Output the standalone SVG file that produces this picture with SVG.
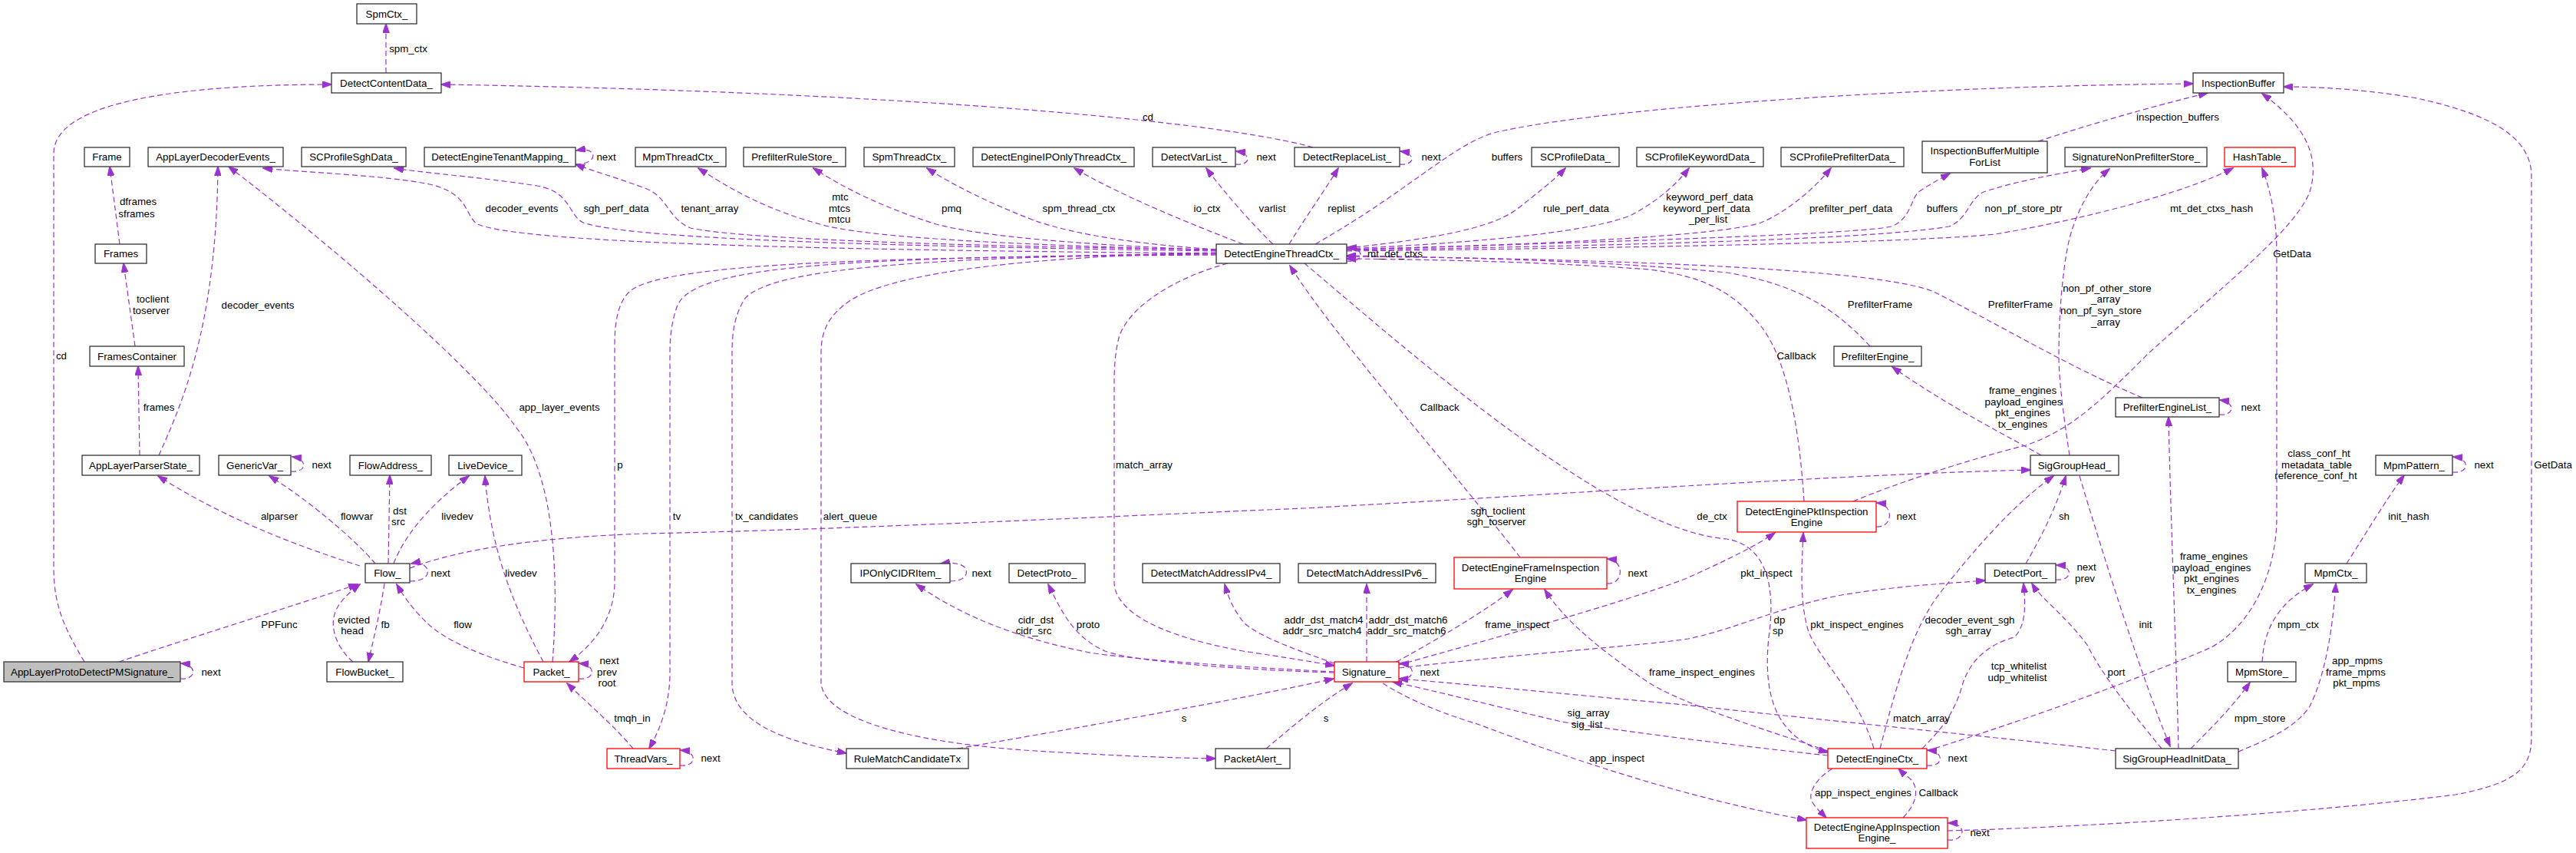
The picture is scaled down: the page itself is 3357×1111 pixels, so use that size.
<svg xmlns="http://www.w3.org/2000/svg" width="3357" height="1111" viewBox="0 0 3357 1111">
<style>
.node rect{fill:#fff;stroke:#333;stroke-width:1.3}
.node.red rect{stroke:#ff0000}
.node.main rect{fill:#bfbfbf;stroke:#333}
text{font-family:"Liberation Sans",Arial,sans-serif;font-size:13.33px;fill:#000}
.node text{text-anchor:middle}
.lbl text{text-anchor:middle}
.edges path{fill:none;stroke:#9a32cd;stroke-width:1.2;stroke-dasharray:7,4;marker-end:url(#arr)}
</style>
<defs>
<marker id="arr" viewBox="0 0 13 9" refX="12" refY="4.5" markerWidth="13" markerHeight="9" markerUnits="userSpaceOnUse" orient="auto">
<path d="M0,0 L13,4.5 L0,9 z" fill="#9a32cd" stroke="#9a32cd" stroke-width="0.8"/>
</marker>
</defs>
<rect width="3357" height="1111" fill="#fff"/>
<g class="edges" id="connectors">
<path d="M503,95 L503,31"/>
<path d="M110,862 C85,820 70,790 70,740 L70,200 C70,120 300,110 432,110"/>
<path d="M1711,192 C1600,160 1200,120 575,110"/>
<path d="M156,318 L143,217"/>
<path d="M176,451 L161,343"/>
<path d="M182,593 L180,477"/>
<path d="M207,593 C235,530 282,430 284,217"/>
<path d="M720,862 C728,760 725,620 672,556 C620,480 420,310 298,217"/>
<path d="M1585,330 C1000,325 680,315 622,292 C605,280 612,252 560,240 C500,228 400,225 343,219"/>
<path d="M1585,327 C1100,320 820,310 760,290 C740,280 745,250 700,242 C620,230 550,225 514,219"/>
<path d="M1585,325 C1200,320 960,310 900,297 C870,285 870,255 840,245 C800,230 770,222 750,214"/>
<path d="M750,214 C770,214 775,205 772,200 C769,195 762,194 751,196"/>
<path d="M1585,326 C1300,318 1150,310 1080,295 C1000,275 950,245 910,219"/>
<path d="M1585,326 C1400,318 1280,308 1220,292 C1150,270 1100,245 1060,219"/>
<path d="M1585,325 C1480,318 1400,305 1350,288 C1290,265 1240,240 1208,219"/>
<path d="M1620,318 C1560,295 1460,255 1400,219"/>
<path d="M1659,318 C1630,290 1595,250 1572,219"/>
<path d="M1610,214 C1630,216 1632,200 1611,197"/>
<path d="M1680,318 C1700,285 1725,250 1744,219"/>
<path d="M1824,214 C1844,216 1846,200 1825,197"/>
<path d="M1714,318 C1850,240 1900,180 1960,170 C2100,140 2500,112 2858,109"/>
<path d="M1755,323 C1880,310 1950,295 1980,270 C2005,250 2025,235 2040,219"/>
<path d="M1755,324 C1950,315 2080,300 2126,280 C2160,262 2185,240 2201,219"/>
<path d="M1755,325 C2050,318 2250,305 2295,290 C2330,275 2365,245 2386,219"/>
<path d="M1755,325 C2100,315 2420,305 2465,295 C2490,285 2490,260 2500,250 C2515,240 2530,232 2541,226"/>
<path d="M1755,326 C2200,318 2450,310 2540,295 C2565,285 2565,260 2585,250 C2630,235 2690,225 2724,219"/>
<path d="M1755,327 C2200,322 2500,315 2600,305 C2720,285 2850,250 2910,219"/>
<path d="M1755,340 C1778,342 1780,324 1756,322"/>
<path d="M2437,451 C2390,400 2340,370 2250,355 C2100,340 1900,335 1755,333"/>
<path d="M2792,518 C2700,480 2600,420 2520,380 C2450,350 2100,337 1755,334"/>
<path d="M2351,653 C2345,560 2330,470 2295,425 C2260,380 2220,360 2150,351 C2000,340 1850,338 1755,337"/>
<path d="M2892,540 C2912,542 2914,524 2893,521"/>
<path d="M1981,726 C1900,620 1740,440 1681,346"/>
<path d="M1700,343 C1850,470 2100,690 2250,702 C2300,710 2315,760 2305,830 C2298,900 2310,960 2382,980"/>
<path d="M534,740 C600,715 700,700 840,695 C1100,690 1500,670 1700,662 C2100,640 2400,618 2646,612"/>
<path d="M1585,332 C1100,335 860,345 820,380 C805,395 801,420 801,450 L801,760 C800,800 780,835 742,862"/>
<path d="M1585,331 C1100,335 900,345 882,400 C875,420 873,440 873,460 L873,880 C872,920 860,950 846,975"/>
<path d="M1585,330 C1200,335 1000,350 970,390 C958,410 954,430 954,460 L954,890 C955,940 1020,965 1103,981"/>
<path d="M1585,329 C1300,335 1160,360 1110,390 C1080,410 1070,430 1070,460 L1070,890 C1075,940 1200,970 1366,979 C1450,984 1520,987 1584,988"/>
<path d="M1600,343 C1530,362 1470,400 1458,440 C1453,460 1452,480 1452,500 L1452,760 C1455,800 1520,830 1620,848 C1680,857 1710,862 1739,867"/>
<path d="M1739,875 C1600,868 1470,858 1420,850 C1320,830 1250,800 1194,761"/>
<path d="M1739,876 C1600,872 1470,860 1440,848 C1400,830 1385,800 1366,761"/>
<path d="M1739,864 C1700,850 1640,830 1620,810 C1605,790 1600,775 1596,761"/>
<path d="M1781,862 L1781,761"/>
<path d="M1820,862 C1860,840 1930,800 1971,768"/>
<path d="M1823,866 C1950,830 2100,790 2196,754 C2250,730 2290,710 2313,694"/>
<path d="M1823,870 C2000,850 2150,840 2200,832 C2260,820 2320,790 2400,775 C2480,762 2540,760 2587,756"/>
<path d="M2757,978 C2600,960 2300,930 2196,918 C2050,905 1900,890 1823,884"/>
<path d="M1248,975 C1450,940 1620,910 1738,884"/>
<path d="M1650,975 C1680,950 1720,915 1762,890"/>
<path d="M825,975 C800,945 770,920 739,890"/>
<path d="M683,870 C630,855 580,835 555,810 C535,790 525,775 517,761"/>
<path d="M708,862 C670,790 640,720 632,620"/>
<path d="M513,734 C530,690 570,650 611,620"/>
<path d="M506,734 L508,619"/>
<path d="M489,734 C460,700 400,650 351,620"/>
<path d="M469,737 C400,715 300,680 206,620"/>
<path d="M379,614 C400,616 402,598 381,595"/>
<path d="M501,760 C495,800 485,840 480,862"/>
<path d="M460,862 C440,845 430,820 436,800 C440,785 455,772 469,761"/>
<path d="M155,862 C250,830 380,790 466,761"/>
<path d="M235,884 C256,886 258,866 236,864"/>
<path d="M754,884 C776,886 778,866 755,864"/>
<path d="M886,997 C908,999 910,979 887,977"/>
<path d="M1238,757 C1258,757 1262,747 1258,740 C1254,734 1240,732 1226,734"/>
<path d="M534,757 C556,757 560,747 556,740 C552,734 545,732 536,734"/>
<path d="M1823,884 C1845,886 1847,866 1824,864"/>
<path d="M2094,760 C2116,762 2118,730 2095,728"/>
<path d="M2445,686 C2467,688 2469,657 2446,655"/>
<path d="M2511,997 C2533,999 2535,979 2512,977"/>
<path d="M2538,1094 C2562,1096 2564,1072 2539,1072"/>
<path d="M2679,755 C2701,757 2703,737 2680,736"/>
<path d="M3196,615 C3218,617 3220,597 3197,595"/>
<path d="M2656,184 C2730,160 2800,140 2877,121"/>
<path d="M2415,653 C2470,630 2560,600 2640,580 C2700,560 2740,520 2800,460 C2900,370 2990,300 3010,250 C3025,200 3000,160 2948,122"/>
<path d="M2538,1082 C2700,1078 3000,1060 3200,1035 C3280,1020 3299,1000 3299,960 L3299,230 C3299,180 3250,150 3150,128 C3080,116 3020,113 2976,113"/>
<path d="M2660,593 C2620,570 2540,530 2466,478"/>
<path d="M2697,593 C2692,560 2683,500 2683,464 C2683,400 2690,330 2700,300 C2710,270 2725,240 2749,220"/>
<path d="M2640,734 C2660,700 2680,660 2692,620"/>
<path d="M2710,620 C2740,720 2790,880 2828,972"/>
<path d="M2839,975 C2836,850 2828,650 2826,543"/>
<path d="M2817,975 C2780,930 2740,880 2720,840 C2690,800 2660,780 2648,760"/>
<path d="M2855,975 C2880,950 2910,920 2932,889"/>
<path d="M2917,979 C2950,965 2990,950 3010,920 C3030,880 3040,820 3044,760"/>
<path d="M2948,862 C2950,830 2960,790 3014,761"/>
<path d="M3058,734 C3080,700 3110,650 3133,619"/>
<path d="M2511,978 C2600,950 2750,900 2882,843 C2940,810 2965,740 2967,680 L2967,330 C2967,290 2960,250 2948,219"/>
<path d="M2450,975 C2470,900 2490,820 2530,770 C2570,720 2620,660 2676,620"/>
<path d="M2505,975 C2530,950 2545,930 2555,900 C2565,860 2590,840 2625,830 C2640,815 2640,790 2637,760"/>
<path d="M2442,975 C2420,900 2370,860 2356,820 C2345,780 2348,740 2350,694"/>
<path d="M2382,978 C2300,950 2200,920 2150,890 C2090,850 2040,810 2013,768"/>
<path d="M2382,984 C2250,970 2100,950 2035,940 C1950,920 1870,900 1815,888"/>
<path d="M1802,890 C1850,920 1900,935 1928,944 C2050,990 2200,1040 2354,1068"/>
<path d="M2388,1001 C2365,1015 2355,1035 2362,1045 C2368,1055 2375,1060 2380,1065"/>
<path d="M2480,1065 C2500,1045 2500,1025 2490,1015 C2482,1008 2478,1005 2474,1001"/>
</g>
<g class="lbl" id="labels">
<text x="532" y="68">spm_ctx</text>
<text x="80" y="468">cd</text>
<text x="1496" y="157">cd</text>
<text x="180" y="267">dframes</text>
<text x="178" y="283">sframes</text>
<text x="199" y="394">toclient</text>
<text x="197" y="409">toserver</text>
<text x="336" y="402">decoder_events</text>
<text x="207" y="535">frames</text>
<text x="729" y="535">app_layer_events</text>
<text x="680" y="276">decoder_events</text>
<text x="803" y="276">sgh_perf_data</text>
<text x="790" y="209">next</text>
<text x="925" y="276">tenant_array</text>
<text x="1095" y="261">mtc</text>
<text x="1094" y="276">mtcs</text>
<text x="1094" y="290">mtcu</text>
<text x="1240" y="276">pmq</text>
<text x="1406" y="276">spm_thread_ctx</text>
<text x="1573" y="276">io_ctx</text>
<text x="1650" y="209">next</text>
<text x="1658" y="276">varlist</text>
<text x="1748" y="276">replist</text>
<text x="1865" y="209">next</text>
<text x="1964" y="209">buffers</text>
<text x="2054" y="276">rule_perf_data</text>
<text x="2228" y="261">keyword_perf_data</text>
<text x="2224" y="276">keyword_perf_data</text>
<text x="2226" y="290">_per_list</text>
<text x="2412" y="276">prefilter_perf_data</text>
<text x="2838" y="157">inspection_buffers</text>
<text x="2531" y="276">buffers</text>
<text x="2637" y="276">non_pf_store_ptr</text>
<text x="2882" y="276">mt_det_ctxs_hash</text>
<text x="2987" y="335">GetData</text>
<text x="1818" y="335">mt_det_ctxs</text>
<text x="2450" y="401">PrefilterFrame</text>
<text x="2633" y="401">PrefilterFrame</text>
<text x="2746" y="380">non_pf_other_store</text>
<text x="2744" y="394">_array</text>
<text x="2738" y="409">non_pf_syn_store</text>
<text x="2744" y="424">_array</text>
<text x="2341" y="468">Callback</text>
<text x="1876" y="535">Callback</text>
<text x="2636" y="513">frame_engines</text>
<text x="2637" y="528">payload_engines</text>
<text x="2636" y="542">pkt_engines</text>
<text x="2636" y="557">tx_engines</text>
<text x="2933" y="535">next</text>
<text x="808" y="610">p</text>
<text x="1491" y="610">match_array</text>
<text x="3022" y="595">class_conf_ht</text>
<text x="3019" y="610">metadata_table</text>
<text x="3018" y="624">reference_conf_ht</text>
<text x="3237" y="610">next</text>
<text x="3327" y="610">GetData</text>
<text x="419" y="610">next</text>
<text x="1952" y="670">sgh_toclient</text>
<text x="1950" y="684">sgh_toserver</text>
<text x="2231" y="677">de_ctx</text>
<text x="2484" y="677">next</text>
<text x="2690" y="677">sh</text>
<text x="3139" y="677">init_hash</text>
<text x="364" y="677">alparser</text>
<text x="465" y="677">flowvar</text>
<text x="521" y="670">dst</text>
<text x="519" y="684">src</text>
<text x="596" y="677">livedev</text>
<text x="882" y="677">tv</text>
<text x="999" y="677">tx_candidates</text>
<text x="1108" y="677">alert_queue</text>
<text x="574" y="751">next</text>
<text x="679" y="751">livedev</text>
<text x="1279" y="751">next</text>
<text x="2134" y="751">next</text>
<text x="2302" y="751">pkt_inspect</text>
<text x="2719" y="743">next</text>
<text x="2717" y="758">prev</text>
<text x="2885" y="729">frame_engines</text>
<text x="2883" y="744">payload_engines</text>
<text x="2882" y="758">pkt_engines</text>
<text x="2882" y="773">tx_engines</text>
<text x="2567" y="812">decoder_event_sgh</text>
<text x="2565" y="826">sgh_array</text>
<text x="1350" y="812">cidr_dst</text>
<text x="1347" y="826">cidr_src</text>
<text x="1418" y="818">proto</text>
<text x="1725" y="812">addr_dst_match4</text>
<text x="1723" y="826">addr_src_match4</text>
<text x="1835" y="812">addr_dst_match6</text>
<text x="1833" y="826">addr_src_match6</text>
<text x="1977" y="818">frame_inspect</text>
<text x="2319" y="812">dp</text>
<text x="2317" y="826">sp</text>
<text x="2420" y="818">pkt_inspect_engines</text>
<text x="2796" y="818">init</text>
<text x="2995" y="818">mpm_ctx</text>
<text x="364" y="818">PPFunc</text>
<text x="461" y="812">evicted</text>
<text x="459" y="826">head</text>
<text x="502" y="818">fb</text>
<text x="603" y="818">flow</text>
<text x="2631" y="872">tcp_whitelist</text>
<text x="2629" y="887">udp_whitelist</text>
<text x="3072" y="865">app_mpms</text>
<text x="3070" y="880">frame_mpms</text>
<text x="3071" y="894">pkt_mpms</text>
<text x="2758" y="880">port</text>
<text x="2218" y="880">frame_inspect_engines</text>
<text x="1863" y="880">next</text>
<text x="275" y="880">next</text>
<text x="794" y="865">next</text>
<text x="791" y="880">prev</text>
<text x="791" y="894">root</text>
<text x="2070" y="933">sig_array</text>
<text x="2068" y="948">sig_list</text>
<text x="2504" y="940">match_array</text>
<text x="824" y="940">tmqh_in</text>
<text x="1543" y="940">s</text>
<text x="1728" y="940">s</text>
<text x="2945" y="940">mpm_store</text>
<text x="926" y="992">next</text>
<text x="2107" y="992">app_inspect</text>
<text x="2551" y="992">next</text>
<text x="2428" y="1037">app_inspect_engines</text>
<text x="2526" y="1037">Callback</text>
<text x="2580" y="1089">next</text>
</g>
<g id="n_SpmCtx" class="node"><rect x="465" y="5" width="78" height="26"/><text x="504" y="22.7">SpmCtx_</text></g>
<g id="n_DetectContentData" class="node"><rect x="432" y="95" width="143" height="26"/><text x="503.5" y="112.7">DetectContentData_</text></g>
<g id="n_Frame" class="node"><rect x="110" y="192" width="59" height="25"/><text x="139.5" y="209">Frame</text></g>
<g id="n_AppLayerDecoderEvents" class="node"><rect x="193" y="192" width="176" height="25"/><text x="281" y="209">AppLayerDecoderEvents_</text></g>
<g id="n_SCProfileSghData" class="node"><rect x="393" y="192" width="136" height="25"/><text x="461" y="209">SCProfileSghData_</text></g>
<g id="n_DetectEngineTenantMapping" class="node"><rect x="553" y="192" width="197" height="25"/><text x="651.5" y="209">DetectEngineTenantMapping_</text></g>
<g id="n_MpmThreadCtx" class="node"><rect x="828" y="192" width="118" height="25"/><text x="887" y="209">MpmThreadCtx_</text></g>
<g id="n_PrefilterRuleStore" class="node"><rect x="969" y="192" width="133" height="25"/><text x="1035.5" y="209">PrefilterRuleStore_</text></g>
<g id="n_SpmThreadCtx" class="node"><rect x="1126" y="192" width="118" height="25"/><text x="1185" y="209">SpmThreadCtx_</text></g>
<g id="n_DetectEngineIPOnlyThreadCtx" class="node"><rect x="1268" y="192" width="210" height="25"/><text x="1373" y="209">DetectEngineIPOnlyThreadCtx_</text></g>
<g id="n_DetectVarList" class="node"><rect x="1502" y="192" width="108" height="25"/><text x="1556" y="209">DetectVarList_</text></g>
<g id="n_DetectReplaceList" class="node"><rect x="1687" y="192" width="137" height="25"/><text x="1755.5" y="209">DetectReplaceList_</text></g>
<g id="n_SCProfileData" class="node"><rect x="1996" y="192" width="114" height="25"/><text x="2053" y="209">SCProfileData_</text></g>
<g id="n_SCProfileKeywordData" class="node"><rect x="2133" y="192" width="165" height="25"/><text x="2215.5" y="209">SCProfileKeywordData_</text></g>
<g id="n_SCProfilePrefilterData" class="node"><rect x="2321" y="192" width="160" height="25"/><text x="2401" y="209">SCProfilePrefilterData_</text></g>
<g id="n_InspectionBufferMultipleForList" class="node"><rect x="2505" y="184" width="163" height="41"/><text x="2586.5" y="200.7">InspectionBufferMultiple</text><text x="2586.5" y="215.7">ForList</text></g>
<g id="n_SignatureNonPrefilterStore" class="node"><rect x="2691" y="192" width="185" height="25"/><text x="2783.5" y="209">SignatureNonPrefilterStore_</text></g>
<g id="n_HashTable" class="node red"><rect x="2899" y="192" width="92" height="25"/><text x="2945" y="209">HashTable_</text></g>
<g id="n_InspectionBuffer" class="node"><rect x="2858" y="95" width="118" height="26"/><text x="2917" y="112.7">InspectionBuffer</text></g>
<g id="n_Frames" class="node"><rect x="124" y="318" width="67" height="25"/><text x="157.5" y="335">Frames</text></g>
<g id="n_DetectEngineThreadCtx" class="node"><rect x="1585" y="318" width="170" height="25"/><text x="1670" y="335">DetectEngineThreadCtx_</text></g>
<g id="n_FramesContainer" class="node"><rect x="117" y="451" width="123" height="26"/><text x="178.5" y="468.7">FramesContainer</text></g>
<g id="n_PrefilterEngine" class="node"><rect x="2390" y="451" width="114" height="26"/><text x="2447" y="468.7">PrefilterEngine_</text></g>
<g id="n_PrefilterEngineList" class="node"><rect x="2757" y="518" width="135" height="25"/><text x="2824.5" y="535">PrefilterEngineList_</text></g>
<g id="n_AppLayerParserState" class="node"><rect x="107" y="593" width="153" height="26"/><text x="183.5" y="610.7">AppLayerParserState_</text></g>
<g id="n_GenericVar" class="node"><rect x="285" y="593" width="94" height="26"/><text x="332" y="610.7">GenericVar_</text></g>
<g id="n_FlowAddress" class="node"><rect x="456" y="593" width="106" height="26"/><text x="509" y="610.7">FlowAddress_</text></g>
<g id="n_LiveDevice" class="node"><rect x="585" y="593" width="95" height="26"/><text x="632.5" y="610.7">LiveDevice_</text></g>
<g id="n_SigGroupHead" class="node"><rect x="2646" y="593" width="115" height="26"/><text x="2703.5" y="610.7">SigGroupHead_</text></g>
<g id="n_MpmPattern" class="node"><rect x="3096" y="593" width="100" height="26"/><text x="3146" y="610.7">MpmPattern_</text></g>
<g id="n_DetectEnginePktInspectionEngine" class="node red"><rect x="2264" y="653" width="181" height="40"/><text x="2354.5" y="670.7">DetectEnginePktInspection</text><text x="2354.5" y="684.7">Engine</text></g>
<g id="n_DetectEngineFrameInspectionEngine" class="node red"><rect x="1895" y="726" width="199" height="41"/><text x="1994.5" y="743.7">DetectEngineFrameInspection</text><text x="1994.5" y="757.7">Engine</text></g>
<g id="n_Flow" class="node"><rect x="476" y="734" width="58" height="25"/><text x="505" y="751">Flow_</text></g>
<g id="n_IPOnlyCIDRItem" class="node"><rect x="1109" y="734" width="129" height="25"/><text x="1173.5" y="751">IPOnlyCIDRItem_</text></g>
<g id="n_DetectProto" class="node"><rect x="1315" y="734" width="99" height="25"/><text x="1364.5" y="751">DetectProto_</text></g>
<g id="n_DetectMatchAddressIPv4" class="node"><rect x="1489" y="734" width="179" height="25"/><text x="1578.5" y="751">DetectMatchAddressIPv4_</text></g>
<g id="n_DetectMatchAddressIPv6" class="node"><rect x="1692" y="734" width="179" height="25"/><text x="1781.5" y="751">DetectMatchAddressIPv6_</text></g>
<g id="n_DetectPort" class="node"><rect x="2587" y="734" width="92" height="25"/><text x="2633" y="751">DetectPort_</text></g>
<g id="n_MpmCtx" class="node"><rect x="3004" y="734" width="80" height="25"/><text x="3044" y="751">MpmCtx_</text></g>
<g id="n_AppLayerProtoDetectPMSignature" class="node main"><rect x="5" y="862" width="230" height="26"/><text x="120" y="879.7">AppLayerProtoDetectPMSignature_</text></g>
<g id="n_FlowBucket" class="node"><rect x="426" y="862" width="99" height="26"/><text x="475.5" y="879.7">FlowBucket_</text></g>
<g id="n_Packet" class="node red"><rect x="683" y="862" width="71" height="26"/><text x="718.5" y="879.7">Packet_</text></g>
<g id="n_Signature" class="node red"><rect x="1739" y="862" width="84" height="26"/><text x="1781" y="879.7">Signature_</text></g>
<g id="n_MpmStore" class="node"><rect x="2903" y="862" width="89" height="26"/><text x="2947.5" y="879.7">MpmStore_</text></g>
<g id="n_ThreadVars" class="node red"><rect x="791" y="975" width="95" height="26"/><text x="838.5" y="992.7">ThreadVars_</text></g>
<g id="n_RuleMatchCandidateTx" class="node"><rect x="1103" y="975" width="159" height="26"/><text x="1182.5" y="992.7">RuleMatchCandidateTx</text></g>
<g id="n_PacketAlert" class="node"><rect x="1584" y="975" width="97" height="26"/><text x="1632.5" y="992.7">PacketAlert_</text></g>
<g id="n_DetectEngineCtx" class="node red"><rect x="2382" y="975" width="129" height="26"/><text x="2446.5" y="992.7">DetectEngineCtx_</text></g>
<g id="n_SigGroupHeadInitData" class="node"><rect x="2757" y="975" width="160" height="26"/><text x="2837" y="992.7">SigGroupHeadInitData_</text></g>
<g id="n_DetectEngineAppInspectionEngine" class="node red"><rect x="2354" y="1065" width="184" height="40"/><text x="2446" y="1081.7">DetectEngineAppInspection</text><text x="2446" y="1095.7">Engine_</text></g>
</svg>
